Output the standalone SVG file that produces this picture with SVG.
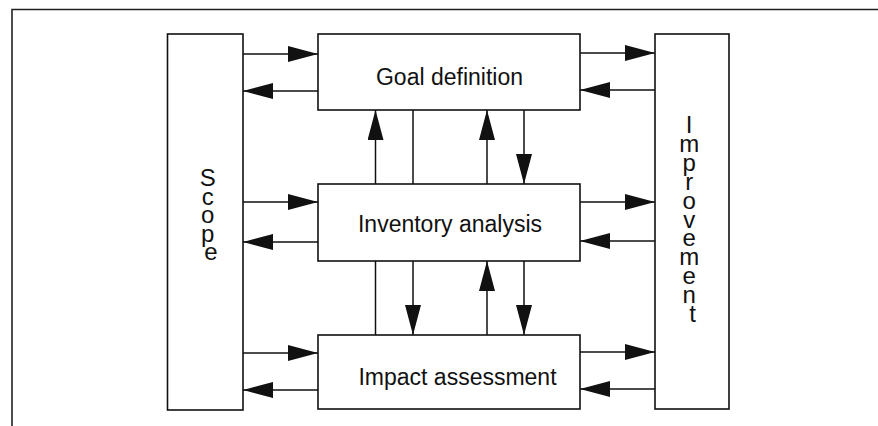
<svg xmlns="http://www.w3.org/2000/svg" width="878" height="426" viewBox="0 0 878 426">
  <style>
    .box { fill: #ffffff; stroke: #111111; stroke-width: 1.6; }
    .frame { fill: none; stroke: #222222; stroke-width: 1.6; }
    .link { fill: none; stroke: #111111; stroke-width: 1.5; }
    .label { font-family: "Liberation Sans", Arial, Helvetica, sans-serif; font-size: 23px; fill: #111111; text-anchor: middle; }
    .stack { font-size: 24px; }
  </style>
  <defs>
    <marker id="head" markerUnits="userSpaceOnUse" markerWidth="30" markerHeight="16" refX="30" refY="8" orient="auto" viewBox="0 0 30 16">
      <path d="M0,0 L30,8 L0,16 Z" fill="#111111"/>
    </marker>
  </defs>

  <rect width="878" height="426" fill="#ffffff"/>

  <!-- outer frame (runs off the right and bottom edges) -->
  <path class="frame" d="M12,426 V9.5 H878"/>

  <!-- connectors -->
  <g id="connectors">
    <!-- Scope <-> stages -->
    <line class="link" x1="243" y1="54" x2="318" y2="54" marker-end="url(#head)"/>
    <line class="link" x1="318" y1="91" x2="243" y2="91" marker-end="url(#head)"/>
    <line class="link" x1="243" y1="202" x2="318" y2="202" marker-end="url(#head)"/>
    <line class="link" x1="318" y1="242" x2="243" y2="242" marker-end="url(#head)"/>
    <line class="link" x1="243" y1="353" x2="318" y2="353" marker-end="url(#head)"/>
    <line class="link" x1="318" y1="390" x2="243" y2="390" marker-end="url(#head)"/>

    <!-- stages <-> Improvement -->
    <line class="link" x1="580" y1="53" x2="655" y2="53" marker-end="url(#head)"/>
    <line class="link" x1="655" y1="90" x2="580" y2="90" marker-end="url(#head)"/>
    <line class="link" x1="580" y1="202" x2="655" y2="202" marker-end="url(#head)"/>
    <line class="link" x1="655" y1="241" x2="580" y2="241" marker-end="url(#head)"/>
    <line class="link" x1="580" y1="352" x2="655" y2="352" marker-end="url(#head)"/>
    <line class="link" x1="655" y1="389" x2="580" y2="389" marker-end="url(#head)"/>

    <!-- Goal definition <-> Inventory analysis -->
    <line class="link" x1="375.5" y1="184" x2="375.5" y2="110" marker-end="url(#head)"/>
    <line class="link" x1="413" y1="110" x2="413" y2="184"/>
    <line class="link" x1="487" y1="184" x2="487" y2="110" marker-end="url(#head)"/>
    <line class="link" x1="524" y1="110" x2="524" y2="184" marker-end="url(#head)"/>

    <!-- Inventory analysis <-> Impact assessment -->
    <line class="link" x1="375.5" y1="261" x2="375.5" y2="335"/>
    <line class="link" x1="413" y1="261" x2="413" y2="335" marker-end="url(#head)"/>
    <line class="link" x1="487" y1="335" x2="487" y2="261" marker-end="url(#head)"/>
    <line class="link" x1="524" y1="261" x2="524" y2="335" marker-end="url(#head)"/>
  </g>

  <g id="scope">
    <rect class="box" x="167.5" y="34" width="75.5" height="376"/>
    <text class="label stack">
      <tspan x="211" y="186">S</tspan>
      <tspan x="211" dy="18.6">c</tspan>
      <tspan x="211" dy="18.6">o</tspan>
      <tspan x="211" dy="18.6">p</tspan>
      <tspan x="211" dy="18.6">e</tspan>
    </text>
  </g>

  <g id="goal-definition">
    <rect class="box" x="318" y="34" width="262" height="76"/>
    <text class="label" x="449.5" y="85">Goal definition</text>
  </g>

  <g id="inventory-analysis">
    <rect class="box" x="318" y="184" width="262" height="77"/>
    <text class="label" x="450" y="232">Inventory analysis</text>
  </g>

  <g id="impact-assessment">
    <rect class="box" x="318" y="335" width="262" height="74"/>
    <text class="label" x="457.5" y="385">Impact assessment</text>
  </g>

  <g id="improvement">
    <rect class="box" x="655" y="34" width="74" height="375"/>
    <text class="label stack">
      <tspan x="692.5" y="133">I</tspan>
      <tspan x="692.5" dy="18.9">m</tspan>
      <tspan x="692.5" dy="18.9">p</tspan>
      <tspan x="692.5" dy="18.9">r</tspan>
      <tspan x="692.5" dy="18.9">o</tspan>
      <tspan x="692.5" dy="18.9">v</tspan>
      <tspan x="692.5" dy="18.9">e</tspan>
      <tspan x="692.5" dy="18.9">m</tspan>
      <tspan x="692.5" dy="18.9">e</tspan>
      <tspan x="692.5" dy="18.9">n</tspan>
      <tspan x="692.5" dy="18.9">t</tspan>
    </text>
  </g>
</svg>
